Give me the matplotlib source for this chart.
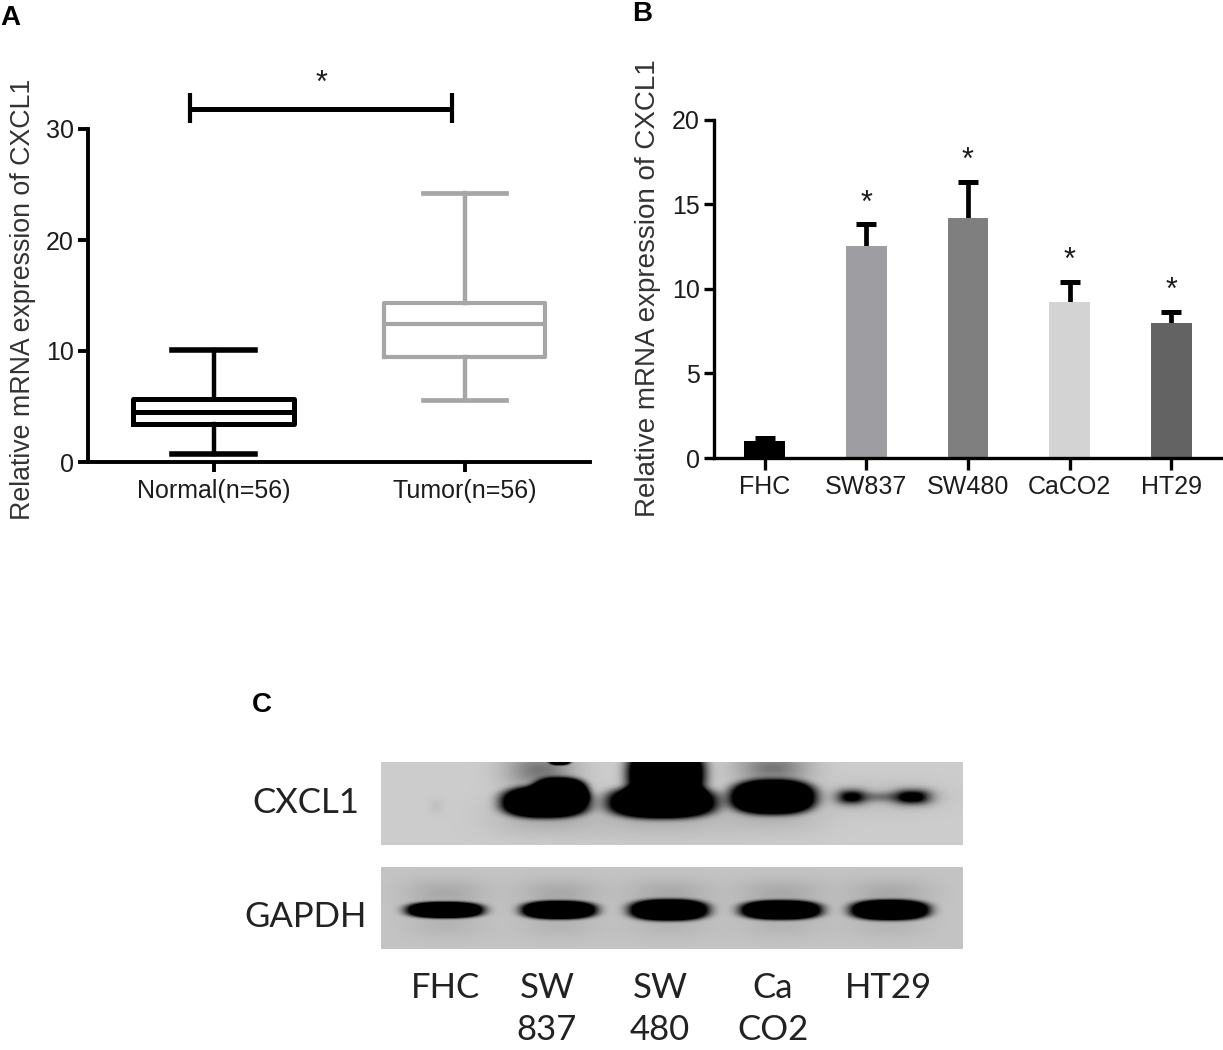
import numpy as np
import matplotlib
matplotlib.use("Agg")
import matplotlib.pyplot as plt

# ---------- data ----------
box_labels = ["Normal(n=56)", "Tumor(n=56)"]
box_whislo = [0.7, 5.6]
box_q1 = [3.4, 9.5]
box_med = [4.5, 12.4]
box_q3 = [5.7, 14.3]
box_whishi = [10.1, 24.2]
box_colors = ["#000000", "#a6a6a9"]

cell_lines = ["FHC", "SW837", "SW480", "CaCO2", "HT29"]
bar_values = [1.0, 12.5, 14.2, 9.2, 7.95]
bar_upper = [1.2, 13.8, 16.3, 10.4, 8.65]
bar_colors = ["#000000", "#9e9ea2", "#7f7f7f", "#d3d3d3", "#636363"]
bar_stars = [False, True, True, True, True]

blot_names = ["CXCL1", "GAPDH"]
blot_lanes_top = ["FHC", "SW", "SW", "Ca", "HT29"]
blot_lanes_bottom = ["", "837", "480", "CO2", ""]

W, H = 1223, 1050
FS = 18
TXT = "#1c1c1c"
plt.rcParams["font.family"] = ["Liberation Sans", "DejaVu Sans"]
fig = plt.figure(figsize=(W / 100, H / 100), dpi=100, facecolor="white")


def ax_px(l, t, r, b, **kw):
    return fig.add_axes([l / W, 1 - b / H, (r - l) / W, (b - t) / H], **kw)


def fig_text(x, y, s, **kw):
    kw.setdefault("ha", "center")
    kw.setdefault("va", "center")
    return fig.text(x / W, 1 - y / H, s, **kw)


def style(ax, lw, xlen, xpad):
    for s in ("top", "right"):
        ax.spines[s].set_visible(False)
    for s in ("left", "bottom"):
        ax.spines[s].set_linewidth(lw)
    ax.patch.set_alpha(0)
    ax.tick_params(axis="y", width=lw, length=7, labelsize=FS, colors="black", labelcolor=TXT, pad=3)
    ax.tick_params(axis="x", width=lw, length=xlen, labelsize=FS, colors="black", labelcolor=TXT, pad=xpad)


# ---------- panel A ----------
axA = ax_px(88, 129, 590, 462)
stats = []
for i in range(2):
    stats.append(dict(med=box_med[i], q1=box_q1[i], q3=box_q3[i],
                      whislo=box_whislo[i], whishi=box_whishi[i], fliers=[]))
box_lw = [3.6, 3.0]
for i, st in enumerate(stats):
    c = box_colors[i]
    axA.bxp([st], positions=[i + 1], widths=0.645, capwidths=0.334, showfliers=False,
            boxprops=dict(color=c, linewidth=box_lw[i]),
            medianprops=dict(color=c, linewidth=box_lw[i], solid_capstyle="butt"),
            whiskerprops=dict(color=c, linewidth=3.2),
            capprops=dict(color=c, linewidth=box_lw[i] + 0.4))
axA.set_xlim(0.5, 2.5)
axA.set_ylim(0, 30)
axA.set_yticks([0, 10, 20, 30])
axA.set_xticks([1, 2])
axA.set_xticklabels(box_labels)
style(axA, 2.8, 7, 5)
axA.plot([0.907, 1.952], [31.8, 31.8], color="black", lw=3.6, clip_on=False, solid_capstyle="butt")
for xb in (0.907, 1.952):
    axA.plot([xb, xb], [30.5, 33.2], color="black", lw=3.0, clip_on=False, solid_capstyle="butt")
fig_text(322, 84, "*", fontsize=22, color=TXT)
fig_text(23, 299, "Relative mRNA expression of CXCL1", rotation=90, fontsize=19.3, color="#333333")

# ---------- panel B ----------
axB = ax_px(714, 119.5, 1223, 458)
xpos = np.arange(len(cell_lines))
axB.vlines(xpos, bar_values, bar_upper, color="black", lw=3.4, zorder=1)
axB.plot(xpos, bar_upper, ls="none", marker="_", ms=14.4, mew=3.6, color="black", zorder=1)
axB.bar(xpos, bar_values, width=0.4, color=bar_colors, zorder=2)
axB.set_xlim(-0.5, 4.51)
axB.set_ylim(0, 20)
axB.set_yticks([0, 5, 10, 15, 20])
axB.set_xticks(xpos)
axB.set_xticklabels(cell_lines)
style(axB, 2.4, 8.5, 4)
for x, u, flag in zip(xpos, bar_upper, bar_stars):
    if flag:
        axB.annotate("*", (x, u), xytext=(0, 21), textcoords="offset pixels", ha="center", va="center",
                     fontsize=22, color=TXT)
fig_text(648, 288, "Relative mRNA expression of CXCL1", rotation=90, fontsize=20, color="#333333")

# ---------- panel letters ----------
for s, x, y in (("A", 10, 18), ("B", 642, 14), ("C", 262, 705)):
    fig_text(x, y, s, fontsize=20, fontweight="bold", color="black")


# ---------- panel C: western blot drawn as shaded bands ----------
def band(X, Y, cx, cy, hw, hh, strength, fall=5.0):
    r = np.abs((X - cx) / hw) ** 2.5 + np.abs((Y - cy) / hh) ** 2.5
    return strength * np.exp(-r ** (fall / 2.5))


def blot(top, bottom, bands, base):
    x = np.arange(381, 963) + 0.5
    y = np.arange(top, bottom) + 0.5
    X, Y = np.meshgrid(x, y)
    dark = np.zeros_like(X)
    for b in bands:
        dark = dark + band(X, Y, *b)
    img = base - np.clip(dark, 0, 1) * base
    ax = ax_px(381, top, 963, bottom)
    ax.imshow(img, cmap="gray", vmin=0, vmax=1, aspect="auto", interpolation="bilinear")
    ax.axis("off")


upper_bands = [
    (436, 806, 8, 8, 0.05, 2),
    # halos
    (545, 817, 50, 18, 0.15, 2), (662, 815, 60, 20, 0.15, 2), (773, 812, 48, 20, 0.13, 2),
    (885, 797, 50, 16, 0.08, 2),
    # smears above strong bands
    (540, 770, 32, 16, 0.42, 2), (773, 768, 34, 13, 0.42, 2),
    (560, 760, 11, 5, 1.6),
    # main bands
    (545, 802, 43, 15.5, 2.0), (560, 792, 27, 14, 2.0),
    (662, 802, 53, 16, 2.0), (666, 774, 38, 28, 2.0),
    (773, 797, 42, 17, 2.0),
    (851, 797, 13, 7, 1.0, 2), (913, 797, 16, 7, 1.15, 2), (882, 797, 38, 5, 0.35, 2),
]
blot(762, 845, upper_bands, 0.80)

lower_bands = []
lower_x = [445, 559, 669, 781, 890]
lower_hh = [8, 9, 10.5, 9.5, 10]
lower_hw = [38, 37, 39, 40, 39]
for cx, hh, hw in zip(lower_x, lower_hh, lower_hw):
    lower_bands.append((cx, 893, hw * 1.05, 14, 0.14, 2))
    lower_bands.append((cx, 925, hw * 1.05, 14, 0.08, 2))
    lower_bands.append((cx, 910, hw, hh, 2.0))
blot(867, 949, lower_bands, 0.77)

BF = ["Lato", "DejaVu Sans"]
fig_text(306, 803, blot_names[0], fontsize=25, family=BF, color="#222222")
fig_text(306, 917, blot_names[1], fontsize=25, family=BF, color="#222222")
lane_x = [446, 547, 660, 773, 888]
for x, s1, s2 in zip(lane_x, blot_lanes_top, blot_lanes_bottom):
    fig_text(x, 988, s1, fontsize=25, family=BF, color="#222222")
    if s2:
        fig_text(x, 1030, s2, fontsize=25, family=BF, color="#222222")

fig.savefig("out.png", dpi=100, facecolor="white")
